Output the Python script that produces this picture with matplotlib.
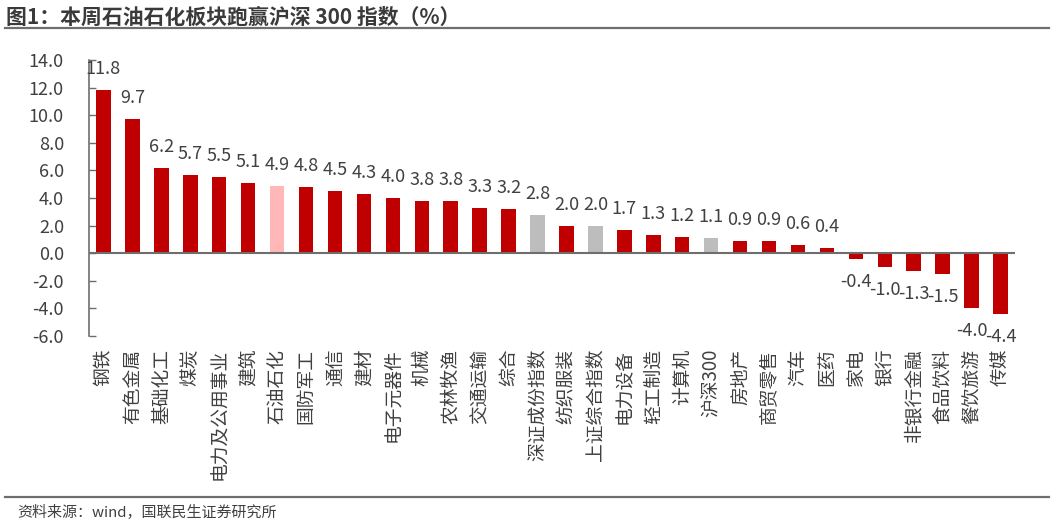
import matplotlib
matplotlib.use("Agg")
import matplotlib.pyplot as plt
from matplotlib.lines import Line2D

plt.rcParams['font.family'] = ['Noto Sans CJK SC', 'DejaVu Sans']
plt.rcParams['axes.unicode_minus'] = False

categories = ['钢铁', '有色金属', '基础化工', '煤炭', '电力及公用事业', '建筑', '石油石化',
              '国防军工', '通信', '建材', '电子元器件', '机械', '农林牧渔', '交通运输', '综合',
              '深证成份指数', '纺织服装', '上证综合指数', '电力设备', '轻工制造', '计算机',
              '沪深300', '房地产', '商贸零售', '汽车', '医药', '家电', '银行', '非银行金融',
              '食品饮料', '餐饮旅游', '传媒']
values = [11.8, 9.7, 6.2, 5.7, 5.5, 5.1, 4.9, 4.8, 4.5, 4.3, 4.0, 3.8, 3.8, 3.3, 3.2,
          2.8, 2.0, 2.0, 1.7, 1.3, 1.2, 1.1, 0.9, 0.9, 0.6, 0.4, -0.4, -1.0, -1.3,
          -1.5, -4.0, -4.4]
highlight = ['石油石化']
benchmarks = ['深证成份指数', '上证综合指数', '沪深300']
yticks = [-6, -4, -2, 0, 2, 4, 6, 8, 10, 12, 14]

RED = '#C00000'
PINK = '#FFB7B7'
GRAY = '#BDBDBD'
colors = [PINK if c in highlight else (GRAY if c in benchmarks else RED) for c in categories]

fig = plt.figure(figsize=(10.55, 5.26), dpi=100)
ax = fig.add_axes([89 / 1055, 1 - 336 / 526, (1015 - 89) / 1055, (336 - 60) / 526])

x = list(range(len(categories)))
ax.bar(x, values, width=0.5, color=colors, zorder=2)
ax.axhline(0, color='#6E6E6E', linewidth=1.5, zorder=3)

for xi, v in zip(x, values):
    off = 21 if v >= 0 else -23
    ax.annotate(f'{v:.1f}', (xi, v), xytext=(0, off), textcoords='offset pixels',
                ha='center', va='center', fontsize=13, color='#404040')

ax.set_xlim(-0.5, len(categories) - 0.5)
ax.set_ylim(-6, 14)
ax.set_yticks(yticks)
ax.set_yticklabels([f'{t:.1f}' for t in yticks], fontsize=13, color='#404040')
ax.tick_params(axis='y', direction='in', length=5, width=1, color='#6E6E6E', pad=18)
ax.set_xticks(x)
ax.set_xticklabels(categories, rotation=90, fontsize=13.5, color='#404040', va='top')
ax.tick_params(axis='x', length=0, pad=9)

for s in ['top', 'right', 'bottom']:
    ax.spines[s].set_visible(False)
ax.spines['left'].set_color('#6E6E6E')
ax.spines['left'].set_linewidth(1.2)

fig.text(6 / 1055, 1 - 17 / 526, '图1：本周石油石化板块跑赢沪深 300 指数（%）', fontsize=15,
         fontweight='bold', color='#3A3A3A', ha='left', va='center')
fig.add_artist(Line2D([5 / 1055, 1049 / 1055], [1 - 28 / 526, 1 - 28 / 526],
                      color='#6E6E6E', linewidth=1.6, transform=fig.transFigure))
fig.add_artist(Line2D([5 / 1055, 1049 / 1055], [1 - 497 / 526, 1 - 497 / 526],
                      color='#6E6E6E', linewidth=1.6, transform=fig.transFigure))
fig.text(17 / 1055, 1 - 513 / 526, '资料来源：wind，国联民生证券研究所', fontsize=10.8,
         color='#404040', ha='left', va='center')

fig.savefig('out.png', dpi=100)
